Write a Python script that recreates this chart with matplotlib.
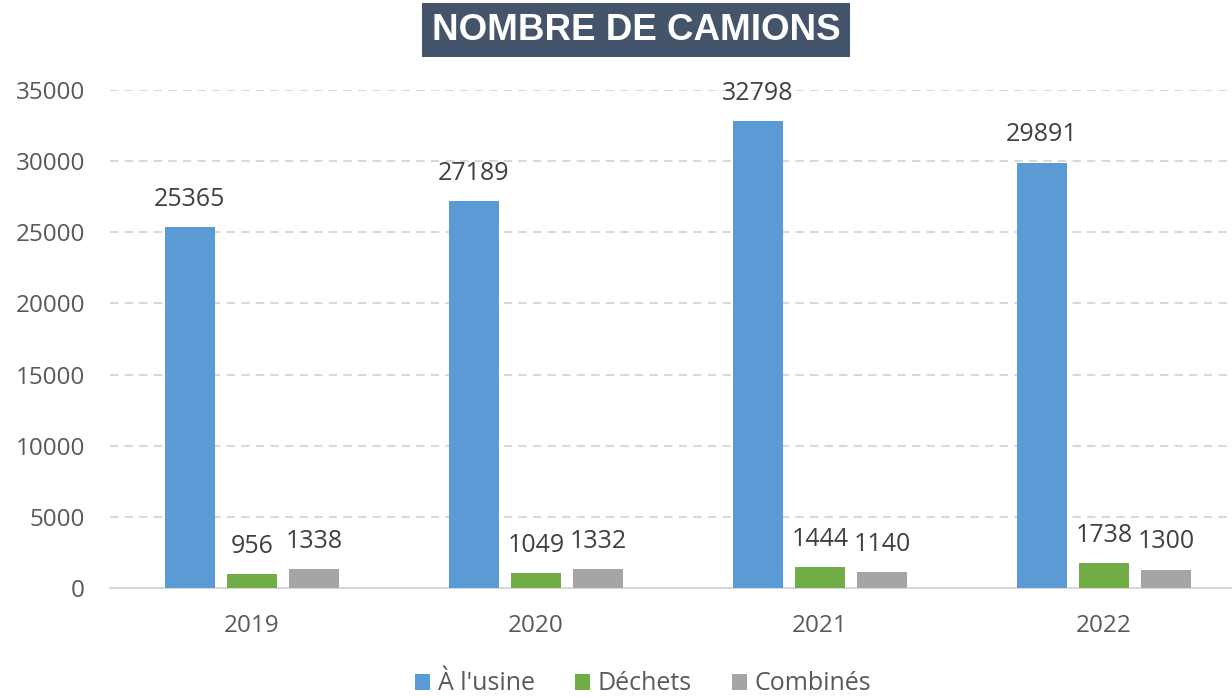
import matplotlib
matplotlib.use("Agg")
import matplotlib.pyplot as plt
import numpy as np

years = ["2019", "2020", "2021", "2022"]
usine = [25365, 27189, 32798, 29891]
dechets = [956, 1049, 1444, 1738]
combines = [1338, 1332, 1140, 1300]
series_names = ["À l'usine", "Déchets", "Combinés"]
yticks = [0, 5000, 10000, 15000, 20000, 25000, 30000, 35000]

colors = ["#5B9BD5", "#70AD47", "#A5A5A5"]
txt = "#595959"
plt.rcParams['font.family'] = ['Open Sans', 'DejaVu Sans']

fig = plt.figure(figsize=(12.32, 6.98), dpi=100)
ax = fig.add_axes([110/1232, 1 - 588/698, (1232 - 110)/1232, (588 - 90)/698])

x = np.arange(len(years))
w = 0.176
off = 0.22
for i, (vals, c) in enumerate(zip([usine, dechets, combines], colors)):
    bars = ax.bar(x + (i - 1) * off, vals, w, color=c, label=series_names[i], zorder=3)
    for b, v in zip(bars, vals):
        ax.annotate(str(v), (b.get_x() + b.get_width()/2, v), xytext=(0, 11),
                    textcoords="offset points", ha="center", va="bottom",
                    fontsize=18, color="#404040", annotation_clip=False)

ax.set_xlim(-0.5, -0.5 + (1232 - 110)/284)
ax.set_ylim(0, 35000)
ax.set_yticks(yticks)
ax.set_xticks(x)
ax.set_xticklabels(years)
ax.tick_params(axis="both", length=0, labelsize=17.5, colors=txt)
ax.tick_params(axis="y", pad=18)
ax.tick_params(axis="x", pad=19)
for lab in ax.get_yticklabels():
    lab.set_horizontalalignment("right")
ax.yaxis.grid(True, linestyle=(0, (4, 3)), color="#D9D9D9", linewidth=1.5, zorder=0)
for s in ["top", "right", "left"]:
    ax.spines[s].set_visible(False)
ax.spines["bottom"].set_color("#D9D9D9")
ax.spines["bottom"].set_linewidth(1.5)

fig.text(636/1232, 1 - 30/698, "NOMBRE DE CAMIONS", ha="center", va="center",
         fontsize=26.5, fontweight="bold", color="white", family="Liberation Sans",
         bbox=dict(boxstyle="square,pad=0.25", facecolor="#44546A", edgecolor="none"))

fig.legend(loc="center", bbox_to_anchor=(643/1232, 1 - 684/698), ncol=3, frameon=False,
           fontsize=18, labelcolor=txt, handlelength=0.6, handleheight=0.6,
           handletextpad=0.3, columnspacing=1.6)

fig.savefig("out.png", dpi=100)
